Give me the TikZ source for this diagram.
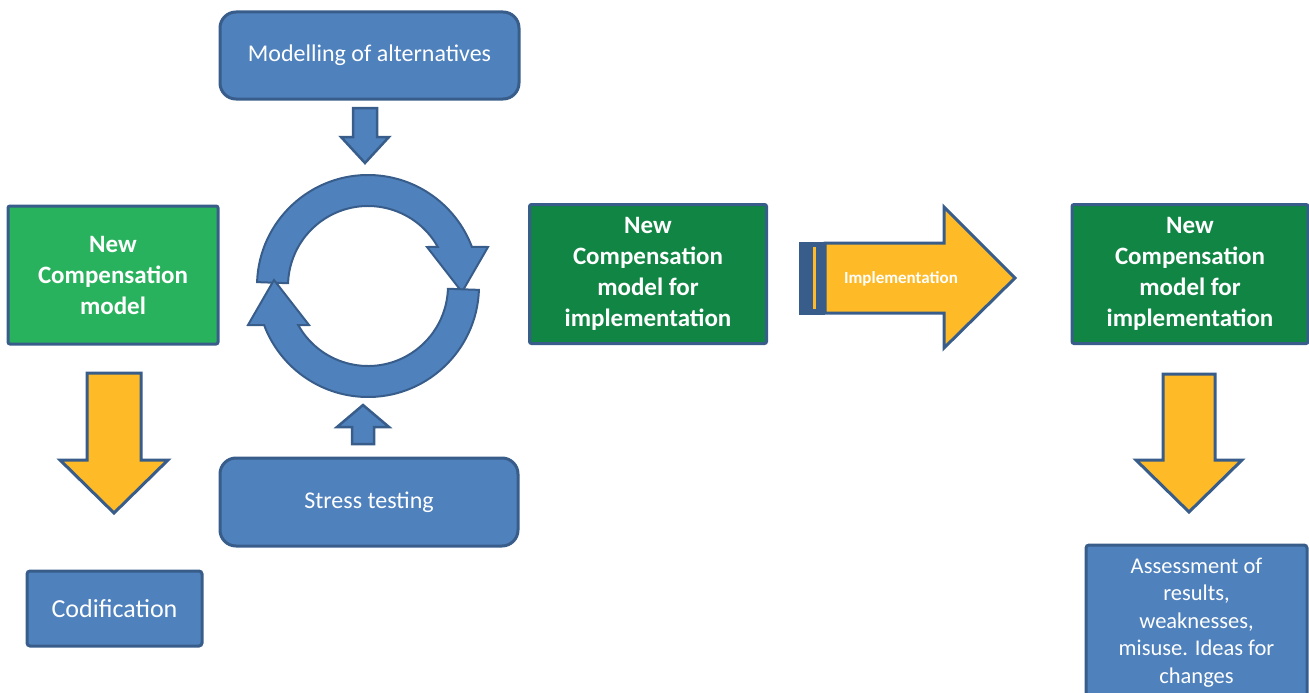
\documentclass[tikz,border=0pt]{standalone}
\usepackage{fontspec}
\setmainfont{Carlito}
\definecolor{boxblue}{RGB}{79,129,189}
\definecolor{edgeblue}{RGB}{56,93,138}
\definecolor{lightgreen}{RGB}{41,178,94}
\definecolor{darkgreen}{RGB}{16,133,68}
\definecolor{arrowyellow}{RGB}{254,186,39}
\tikzset{
  box/.style={draw=edgeblue, line width=3pt, text=white, align=center, inner sep=0pt},
  bluebox/.style={box, fill=boxblue, rounded corners=3pt, font=\fontsize{24}{29}\selectfont},
  roundbox/.style={bluebox, rounded corners=16pt},
  greenbox/.style={box, fill=lightgreen, rounded corners=2pt, font=\bfseries\fontsize{25}{31}\selectfont},
  darkbox/.style={greenbox, fill=darkgreen},
  yarrow/.style={draw=edgeblue, line width=3pt, fill=arrowyellow},
  barrow/.style={draw=edgeblue, line width=2.5pt, fill=boxblue},
}
\begin{document}
\begin{tikzpicture}[x=1pt, y=-1pt]
  \useasboundingbox (0,0) rectangle (1309,693);
  % boxes
  \node[roundbox, minimum width=299, minimum height=87] (alt) at (369.5,55.5) {Modelling of alternatives};
  \node[roundbox, minimum width=298, minimum height=88] (stress) at (369,502) {Stress testing};
  \node[greenbox, minimum width=210, minimum height=138] (model) at (113,275) {New\\Compensation\\model};
  \node[darkbox, minimum width=237, minimum height=139] (impl) at (648,274) {New\\Compensation\\model for\\implementation};
  \node[darkbox, minimum width=236, minimum height=139] (final) at (1190,274) {New\\Compensation\\model for\\implementation};
  \node[bluebox, minimum width=175, minimum height=75, font=\fontsize{26}{31}\selectfont] (codif) at (114.5,608.5) {Codification};
  \node[bluebox, minimum width=221, minimum height=155, font=\fontsize{22.5}{27.5}\selectfont] (assess) at (1196.5,622.5)
    {Assessment of\\results,\\weaknesses,\\misuse. Ideas for\\changes};
  % small blue arrows into the cycle
  \draw[barrow] (353,108) -- (377,108) -- (377,137) -- (389,137) -- (365,163) -- (341,137) -- (353,137) -- cycle;
  \draw[barrow] (352,444) -- (374,444) -- (374,427) -- (389,427) -- (363,405) -- (337,427) -- (352,427) -- cycle;
  % the cycle, two curved arrows
  \foreach \r in {0,180}
    \draw[barrow, line width=2pt, shift={(368,286)}, yscale=-1, rotate=\r]
      (178:111) arc[start angle=178, end angle=20.6, radius=111] -- (120,39) -- (94,-6) -- (59,39)
      -- (29.2:80) arc[start angle=29.2, end angle=178, radius=80] -- cycle;
  % yellow arrows down
  \draw[yarrow] (87,373) -- (141,373) -- (141,460) -- (168,460) -- (114,513) -- (60,460) -- (87,460) -- cycle;
  \draw[yarrow] (1163,374) -- (1215,374) -- (1215,460) -- (1242,460) -- (1189,512) -- (1136,460) -- (1163,460) -- cycle;
  % implementation arrow
  \draw[yarrow] (825,243) -- (944,243) -- (944,207) -- (1015,278) -- (944,348) -- (944,313) -- (825,313) -- cycle;
  \fill[edgeblue] (799,241.5) rectangle (825,314.5);
  \fill[arrowyellow] (813,247) rectangle (816,309);
  \node[text=white, font=\bfseries\fontsize{17}{20}\selectfont] (impltext) at (901,279) {Implementation};
\end{tikzpicture}
\end{document}
